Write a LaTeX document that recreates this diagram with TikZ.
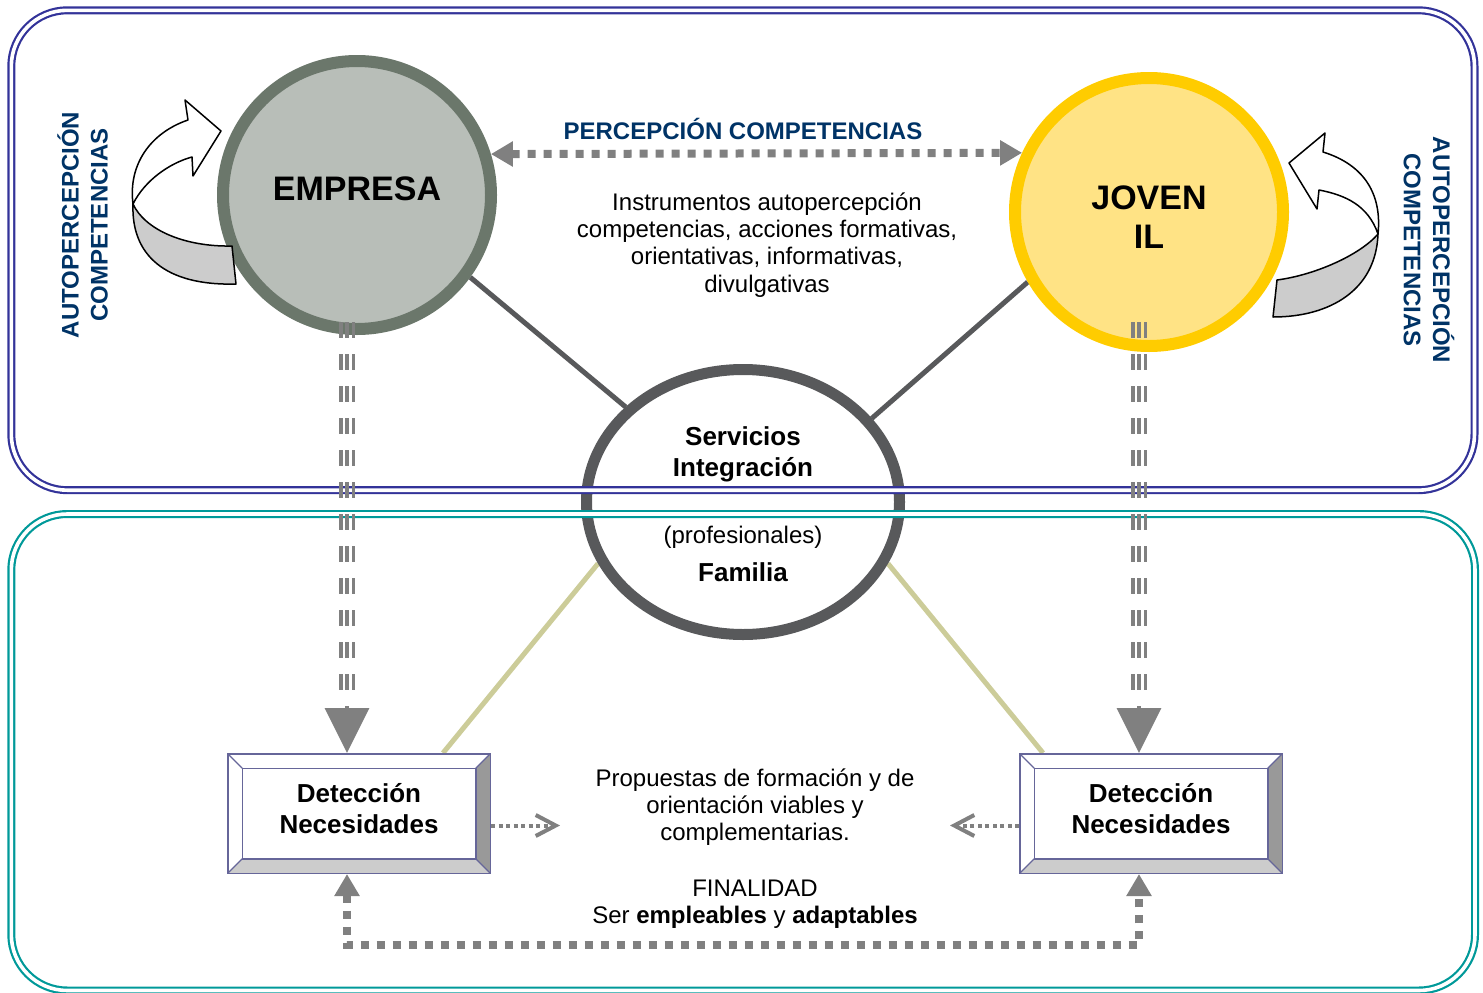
\documentclass[tikz,border=0pt]{standalone}
\usepackage{fontspec}
\setmainfont{Liberation Sans}
\usetikzlibrary{arrows.meta,shapes.geometric,calc}
\definecolor{navy}{HTML}{333399}
\definecolor{tealc}{HTML}{009999}
\definecolor{lbl}{HTML}{003366}
\definecolor{arrgray}{HTML}{808080}
\definecolor{empring}{HTML}{6B776B}
\definecolor{empfill}{HTML}{B8BEB8}
\definecolor{jovring}{HTML}{FFCC00}
\definecolor{jovfill}{HTML}{FFE385}
\definecolor{svcring}{HTML}{58595B}
\definecolor{olivec}{HTML}{CCCC99}
\definecolor{boxline}{HTML}{666699}
\definecolor{bevdark}{HTML}{999999}
\definecolor{bevlight}{HTML}{CCCCCC}
\pgfdeclarelayer{bg}
\pgfsetlayers{bg,main}
\begin{document}
\begin{tikzpicture}[x=1pt,y=-1pt,
  txt/.style={font=\fontsize{24}{27.3}\selectfont, align=center, inner sep=0pt},
  btxt/.style={font=\bfseries\fontsize{26}{31}\selectfont, align=center, inner sep=0pt},
  bigtxt/.style={font=\bfseries\fontsize{34}{39}\selectfont, align=center, inner sep=0pt},
  vlabel/.style={font=\bfseries\fontsize{24}{29}\selectfont, text=lbl, align=center, inner sep=0pt},
  bigcircle/.style={circle, line width=12pt, minimum size=268pt, inner sep=0pt},
  container/.style={line width=2.2pt, double=white, double distance=3.6pt, rounded corners=56pt},
  conn/.style={draw=svcring, line width=5pt},
  oline/.style={draw=olivec, line width=5pt},
  dotarrow/.style={draw=arrgray, line width=8pt, dash pattern=on 8pt off 8pt},
  smalldot/.style={draw=arrgray, line width=4pt, dash pattern=on 4pt off 3.5pt},
  tri/.style={draw=arrgray, line width=3.3pt, dash pattern=on 16pt off 16pt},
  bigtip/.tip={Triangle[length=22pt,width=24pt]},
  downtip/.tip={Triangle[length=45pt,width=44pt]},
  barbtip/.tip={Straight Barb[length=20pt,width=21pt]},
  curvearrow/.style={draw=black, line width=1.5pt, line join=round},
  bevelbox/.style={draw=boxline, line width=1.5pt, fill=white,
    minimum width=262.5pt, minimum height=119.5pt, inner sep=0pt,
    path picture={
      \fill[bevdark] (path picture bounding box.north east) -- (path picture bounding box.south east)
        -- ([xshift=-14.5pt,yshift=14.5pt]path picture bounding box.south east)
        -- ([xshift=-14.5pt,yshift=-14.5pt]path picture bounding box.north east) -- cycle;
      \fill[bevlight] (path picture bounding box.south west) -- (path picture bounding box.south east)
        -- ([xshift=-14.5pt,yshift=14.5pt]path picture bounding box.south east)
        -- ([xshift=14.5pt,yshift=14.5pt]path picture bounding box.south west) -- cycle;
      \draw[boxline, line width=1.5pt]
        ([xshift=14.5pt,yshift=14.5pt]path picture bounding box.south west) rectangle
        ([xshift=-14.5pt,yshift=-14.5pt]path picture bounding box.north east);
      \draw[boxline, line width=1.2pt]
        (path picture bounding box.north west) -- ([xshift=14.5pt,yshift=-14.5pt]path picture bounding box.north west)
        (path picture bounding box.north east) -- ([xshift=-14.5pt,yshift=-14.5pt]path picture bounding box.north east)
        (path picture bounding box.south west) -- ([xshift=14.5pt,yshift=14.5pt]path picture bounding box.south west)
        (path picture bounding box.south east) -- ([xshift=-14.5pt,yshift=14.5pt]path picture bounding box.south east);
    }}
]
\useasboundingbox (0,0) rectangle (1483,993);

% central ellipse
\node[ellipse, draw=svcring, line width=11pt, fill=white, minimum width=313pt, minimum height=265pt, inner sep=0pt] (svc) at (743,502) {};

% containers
\draw[container, navy] (11.3,10.3) rectangle (1474.5,490.2);
\draw[container, tealc] (11.3,514) rectangle (1475,990.5);

% big circles
\node[bigcircle, draw=empring, fill=empfill] (emp) at (357,195) {};
\node[bigcircle, draw=jovring, fill=jovfill] (jov) at (1149,212) {};
\node[bigtxt] (empT) at (357,189) {EMPRESA};
\node[bigtxt] (jovT) at (1149,217) {JOVEN\\IL};

% boxes
\node[bevelbox] (boxL) at (359,813.5) {};
\node[bevelbox] (boxR) at (1151,813.5) {};
\node[btxt] (boxLT) at (359,808.5) {Detección\\Necesidades};
\node[btxt] (boxRT) at (1151,808.5) {Detección\\Necesidades};

% connectors under shapes
\begin{pgfonlayer}{bg}
\draw[conn] (emp.-36) -- (svc.141);
\draw[conn] (jov.210) -- (svc.33);
\draw[oline] (svc.203) -- ($(boxL.north)+(84,0)$);
\draw[oline] (svc.337) -- ($(boxR.north)+(-108,0)$);
\end{pgfonlayer}

% ellipse texts
\node[btxt] (svcT) at (743,454) {Servicios\\Integración};
\node[txt] (profT) at (743,537) {(profesionales)};
\node[btxt] (famT) at (743,572) {Familia};

% top double arrow
\draw[dotarrow, bigtip-bigtip] (emp.17.5) -- (jov.155);
\node[font=\bfseries\fontsize{24}{27}\selectfont, text=lbl, inner sep=0pt] (percT) at (743,129) {PERCEPCIÓN COMPETENCIAS};
\node[txt] (instT) at (767,245) {Instrumentos autopercepción\\competencias, acciones formativas,\\orientativas, informativas,\\divulgativas};

% vertical triple arrows
\draw[tri, -downtip] ($(emp.south)+(-10,-13)$) -- ($(boxL.north)+(-12,0)$);
\draw[tri] ($(emp.south)+(-16,-13)$) -- ($(boxL.north)+(-18,-47)$);
\draw[tri] ($(emp.south)+(-3.5,-13)$) -- ($(boxL.north)+(-5.5,-47)$);
\draw[tri, -downtip] ($(jov.south)+(-10,-30)$) -- ($(boxR.north)+(-12,0)$);
\draw[tri] ($(jov.south)+(-16,-30)$) -- ($(boxR.north)+(-18,-47)$);
\draw[tri] ($(jov.south)+(-3.5,-30)$) -- ($(boxR.north)+(-5.5,-47)$);

% small dotted arrows
\draw[smalldot, -barbtip] ($(boxL.east)+(0,12)$) -- ++(69,0);
\draw[smalldot, -barbtip] ($(boxR.west)+(0,12)$) -- ++(-69,0);

% bottom loop
\draw[dotarrow, bigtip-bigtip] ($(boxL.south)+(-12,0)$) -- ++(0,71) -| ($(boxR.south)+(-12,0)$);

% texts bottom
\node[txt] (propT) at (755,807) {Propuestas de formación y de\\orientación viables y\\complementarias.};
\node[txt] (finT) at (755,904) {FINALIDAD\\Ser \textbf{empleables} y \textbf{adaptables}};

% curved arrows
\filldraw[curvearrow, fill=white] (188,120) .. controls (150,133) and (128,165) .. (133,204)
  .. controls (145,180) and (170,163) .. (192,157) -- (193,176) -- (221,131) -- (185,100) -- cycle;
\filldraw[curvearrow, fill=bevlight] (133,204) .. controls (131,255) and (165,286) .. (236,284)
  -- (232,246) .. controls (185,247) and (145,230) .. (133,204) -- cycle;
\filldraw[curvearrow, fill=white] (1323,152) .. controls (1365,165) and (1382,195) .. (1378,234)
  .. controls (1368,205) and (1345,195) .. (1319,190) -- (1317,209) -- (1289,163) -- (1325,133) -- cycle;
\filldraw[curvearrow, fill=bevlight] (1378,234) .. controls (1376,290) and (1330,317) .. (1273,317)
  -- (1277,280) .. controls (1315,275) and (1360,255) .. (1378,234) -- cycle;

% vertical labels
\node[vlabel, rotate=90] (autoL) at (82.5,225) {AUTOPERCEPCIÓN\\COMPETENCIAS};
\node[vlabel, rotate=-90] (autoR) at (1429,250) {AUTOPERCEPCIÓN\\COMPETENCIAS};
\end{tikzpicture}
\end{document}
